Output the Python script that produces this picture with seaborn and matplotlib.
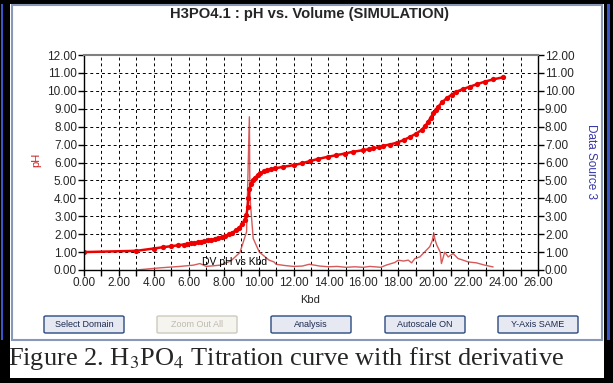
import seaborn as sns
import numpy as np
import matplotlib.pyplot as plt
from matplotlib.patches import Rectangle, FancyBboxPatch
from matplotlib.ticker import MultipleLocator, FormatStrFormatter

# pH titration curve
vol = [0.0, 3.0, 4.0, 4.5, 5.0, 5.4, 5.7, 5.9, 6.1, 6.3, 6.5, 6.7, 6.9, 7.1, 7.3,
       7.5, 7.7, 7.9, 8.1, 8.3, 8.5, 8.7, 8.9, 9.05, 9.2, 9.3, 9.37, 9.42, 9.47,
       9.55, 9.65, 9.8, 9.95, 10.1, 10.3, 10.5, 10.7, 10.93, 11.41, 12.0, 12.46,
       12.94, 13.41, 13.98, 14.46, 14.94, 15.42, 15.99, 16.3, 16.56, 16.9, 17.13,
       17.5, 17.9, 18.3, 18.66, 19.0, 19.33, 19.55, 19.71, 19.85, 19.99, 20.15,
       20.28, 20.5, 20.76, 21.05, 21.33, 21.7, 22.1, 22.5, 22.95, 23.43, 23.97]
ph = [1.0, 1.07, 1.2, 1.27, 1.33, 1.38, 1.42, 1.45, 1.48, 1.51, 1.54, 1.57, 1.61,
      1.65, 1.69, 1.73, 1.78, 1.84, 1.91, 1.99, 2.09, 2.21, 2.37, 2.55, 2.8, 3.05,
      3.5, 4.0, 4.5, 4.8, 5.0, 5.15, 5.3, 5.4, 5.5, 5.58, 5.63, 5.67, 5.76, 5.85,
      5.95, 6.08, 6.2, 6.32, 6.41, 6.5, 6.6, 6.69, 6.74, 6.79, 6.86, 6.93, 7.0,
      7.1, 7.25, 7.42, 7.6, 7.81, 8.05, 8.27, 8.5, 8.74, 8.95, 9.11, 9.35, 9.58,
      9.78, 9.95, 10.1, 10.23, 10.37, 10.51, 10.64, 10.75]

# first derivative (DV pH vs Kbd)
dv_x = [3.0, 4.35, 5.5, 6.26, 6.64, 7.0, 7.8, 8.4, 8.93, 9.31, 9.47, 9.5, 9.54,
        9.69, 10.04, 10.6, 10.88, 11.0, 11.5, 12.0, 12.5, 12.9, 13.5, 14.0, 14.5,
        15.0, 15.5, 16.0, 16.37, 17.0, 17.3, 17.8, 18.0, 18.3, 18.57, 18.76,
        18.95, 19.23, 19.5, 19.8, 19.95, 20.03, 20.1, 20.2, 20.4, 20.47, 20.66,
        20.86, 21.14, 21.42, 21.71, 22.0, 22.47, 22.95, 23.43]
dv_y = [0.0, 0.12, 0.2, 0.27, 0.36, 0.2, 0.27, 0.5, 0.98, 2.13, 8.55, 4.5, 3.6,
        1.76, 1.0, 0.55, 0.45, 0.32, 0.25, 0.2, 0.22, 0.32, 0.22, 0.18, 0.2,
        0.15, 0.18, 0.15, 0.2, 0.15, 0.27, 0.42, 0.55, 0.5, 0.55, 0.4, 0.64,
        0.73, 1.0, 1.3, 1.65, 2.07, 1.7, 1.4, 1.0, 0.36, 1.0, 0.73, 0.92, 0.64,
        0.55, 0.45, 0.4, 0.27, 0.17]

buttons = ["Select Domain", "Zoom Out All", "Analysis", "Autoscale ON", "Y-Axis SAME"]
button_left = [44, 157, 271, 385, 498]

sns.set_style("white")
plt.rcParams['font.family'] = ['Liberation Sans', 'DejaVu Sans']
plt.rcParams['mathtext.fontset'] = 'stix'

W, H = 613, 383
fig = plt.figure(figsize=(W / 100, H / 100), dpi=100)
fig.patch.set_facecolor('black')


def fx(px):
    return px / W


def fy(py):
    return 1 - py / H


# window frame
fig.patches.append(Rectangle((fx(10), fy(378)), fx(594), 374 / H, transform=fig.transFigure,
                             facecolor='white', edgecolor='none', zorder=0))
fig.patches.append(Rectangle((fx(0.5), fy(340)), fx(2.5), 336 / H, transform=fig.transFigure,
                             facecolor='#3a55c8', edgecolor='none', zorder=0))
fig.patches.append(Rectangle((fx(607), fy(340)), fx(3), 336 / H, transform=fig.transFigure,
                             facecolor='#3a55c8', edgecolor='none', zorder=0))
fig.patches.append(Rectangle((fx(12), fy(340)), fx(590), 335 / H, transform=fig.transFigure,
                             facecolor='white', edgecolor='#8a98b8', linewidth=1.5, zorder=1))

ax = fig.add_axes([fx(84), fy(270), fx(538 - 84), (270 - 55) / H])
ax.set_zorder(5)

sns.lineplot(x=dv_x, y=dv_y, sort=False, ax=ax, color='#d03c3c', linewidth=1.0, alpha=0.85)
sns.lineplot(x=vol, y=ph, sort=False, ax=ax, color='#ee0000', linewidth=1.8,
             marker='o', markersize=3.8, markeredgewidth=0)

ax.set_xlim(0, 26)
ax.set_ylim(0, 12)
ax.xaxis.set_major_locator(MultipleLocator(2))
ax.xaxis.set_minor_locator(MultipleLocator(1))
ax.yaxis.set_major_locator(MultipleLocator(1))
ax.xaxis.set_major_formatter(FormatStrFormatter('%.2f'))
ax.yaxis.set_major_formatter(FormatStrFormatter('%.2f'))
ax.tick_params(axis='both', which='both', direction='out', length=4, width=1,
               color='black', labelsize=8.5, pad=1)
ax.tick_params(axis='y', right=True, labelright=True, left=True)
ax.tick_params(axis='x', which='both', bottom=True)
ax.grid(True, which='both', color='black', linestyle=(0, (3, 3)), linewidth=0.7)
for side in ['left', 'bottom', 'right']:
    ax.spines[side].set_color('black')
    ax.spines[side].set_linewidth(1)
ax.spines['top'].set_color('#808080')
ax.spines['top'].set_linewidth(1.5)

ax.text(8.65, 0.44, "DV pH vs Kbd", fontsize=7.5, ha='center', va='center', color='black')

fig.text(0.505, fy(14), "H3PO4.1 : pH vs. Volume (SIMULATION)", ha='center', va='center',
         fontsize=10.6, fontweight='bold')
fig.text(fx(36), fy(160), "pH", rotation=90, ha='center', va='center', fontsize=8, color='#d02020')
fig.text(fx(591), fy(162), "Data Source 3", rotation=-90, ha='center', va='center',
         fontsize=8.5, color='#3838a8')
fig.text(fx(310), fy(300), "Kbd", ha='center', va='center', fontsize=8)

for label, left in zip(buttons, button_left):
    disabled = label == "Zoom Out All"
    fig.patches.append(FancyBboxPatch((fx(left), fy(333)), fx(80), 17 / H,
                                      boxstyle='round,pad=0,rounding_size=0.003',
                                      transform=fig.transFigure,
                                      facecolor='#f5f4ef' if disabled else '#e6e8f2',
                                      edgecolor='#cdcabc' if disabled else '#2a4a80',
                                      linewidth=1.0, zorder=2))
    fig.text(fx(left + 40), fy(324.5), label, ha='center', va='center', fontsize=6.5,
             color='#bdbab0' if disabled else '#1a2a50', zorder=3)

fig.text(fx(8), fy(359), r"Figure 2. H$_3$PO$_4$ Titration curve with first derivative",
         ha='left', va='center', fontsize=19, family=['Liberation Serif'])

plt.savefig('out.png', dpi=100, facecolor=fig.get_facecolor())
